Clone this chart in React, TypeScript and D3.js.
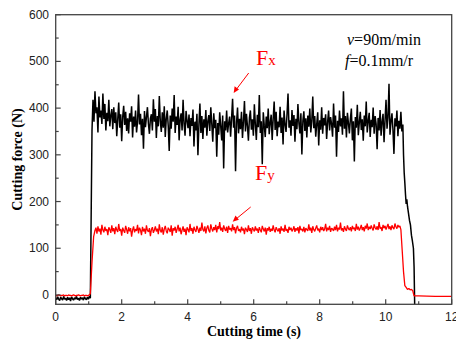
import React from "react";
import * as d3 from "d3";

const W = 456;
const H = 342;

// sample spacing of the force signal (s)
const dt = 0.03;

// Fx before cutting starts (t = 0 .. 1.05)
const fxPre = [-6, -10, -4, -9, -12, -5, -8, -11, -3, -9, -7, -12, -5, -10, -6, -13, -4, -8, -11, -6, -9, -3, -10, -7, -12, -5, -9, -6, -11, -4, -8, -10, -5, -9, -3, -7];

// Fx during cutting (t = 1.10 .. 10.52)
const fxMainStart = 1.1;
const fxMain = [
  352, 418, 371, 436, 389, 402, 348, 425, 380, 395, 366, 431, 377, 409, 352, 390, 372, 418, 361, 384,
  398, 355, 402, 368, 391, 340, 376, 412, 358, 387, 329, 381, 405, 364, 392, 351, 378, 346, 389, 371,
  404, 337, 382, 360, 395, 348, 371, 429, 365, 388, 342, 377, 313, 394, 359, 381, 402, 366, 345, 378,
  387, 352, 419, 371, 398, 336, 383, 361, 426, 372, 349, 391, 358, 404, 338, 377, 395, 362, 308, 384,
  356, 399, 371, 428, 347, 382, 364, 403, 331, 376, 389, 352, 418, 366, 341, 394, 373, 357, 386, 340,
  379, 362, 397, 318, 371, 352, 388, 299, 365, 410, 347, 383, 334, 376, 358, 396, 341, 372, 385, 351,
  402, 366, 328, 389, 357, 375, 296, 368, 343, 391, 362, 331, 384, 271, 372, 352, 395, 348, 367, 382,
  339, 378, 420, 358, 384, 265, 369, 401, 346, 377, 355, 392, 336, 371, 415, 350, 388, 362, 330, 379,
  395, 354, 376, 341, 408, 365, 332, 386, 359, 428, 347, 372, 280, 391, 363, 338, 382, 357, 399, 344,
  369, 386, 332, 377, 414, 353, 392, 340, 371, 359, 403, 347, 380, 322, 395, 365, 349, 387, 431, 358,
  374, 341, 396, 362, 385, 328, 377, 355, 409, 368, 346, 389, 301, 372, 393, 351, 378, 337, 384, 360,
  399, 348, 372, 425, 357, 383, 339, 366, 391, 320, 374, 354, 402, 345, 379, 363, 387, 334, 370, 395,
  352, 381, 366, 339, 410, 358, 384, 296, 373, 349, 395, 361, 378, 343, 436, 356, 383, 337, 390, 368,
  346, 377, 399, 331, 372, 286, 381, 358, 407, 342, 369, 392, 353, 376, 330, 384, 361, 414, 348, 372,
  390, 338, 375, 359, 401, 345, 383, 366, 312, 379, 352, 396, 341, 371, 388, 327, 374, 418, 356, 380,
  452, 343, 371, 389, 354, 302, 378, 361, 395, 340, 373, 356, 392, 350, 365,
];

// Fx when the tool leaves the work
const fxTailT = [10.54, 10.56, 10.58, 10.6, 10.62, 10.64, 10.66, 10.69, 10.72, 10.75, 10.78, 10.81, 10.84, 10.86, 10.88];
const fxTail = [300, 262, 240, 215, 195, 205, 190, 175, 160, 150, 128, 115, 100, 60, -30];

// Fy before cutting (t = 0 .. 1.02)
const fyPre = [-1, -2, -1, 0, -1, -2, -1, -1, 0, -2, -1, -1, -2, 0, -1, -1, -2, -1, 0, -1, -2, -1, -1, 0, -1, -2, -1, -1, 0, -2, -1, -1, -2, -1, 0];
const fyRiseT = [1.05, 1.1, 1.15];
const fyRise = [3, 70, 125];

// Fy during cutting (t = 1.19 .. 10.43)
const fyMainStart = 1.19;
const fyMain = [
  138, 144, 131, 147, 136, 142, 129, 150, 139, 134, 146, 137, 141, 128, 145, 140, 133, 149, 136, 143,
  130, 146, 139, 135, 152, 137, 141, 127, 144, 138, 133, 148, 140, 131, 145, 136, 143, 125, 139, 147,
  134, 141, 137, 150, 132, 144, 139, 128, 146, 136, 142, 131, 149, 138, 135, 143, 126, 140, 145, 133,
  139, 147, 136, 142, 130, 151, 138, 134, 145, 129, 141, 148, 137, 132, 144, 140, 135, 149, 127, 143,
  138, 146, 133, 141, 150, 136, 144, 130, 139, 147, 135, 142, 128, 145, 140, 134, 152, 137, 143, 131,
  146, 139, 135, 148, 141, 133, 144, 137, 155, 140, 136, 147, 132, 143, 149, 138, 134, 151, 142, 136,
  145, 139, 150, 134, 147, 141, 156, 138, 144, 135, 149, 142, 137, 146, 133, 148, 140, 143, 136, 151,
  139, 145, 132, 143, 148, 137, 141, 134, 146, 138, 142, 130, 144, 140, 135, 149, 137, 143, 131, 145,
  140, 136, 147, 138, 142, 133, 145, 139, 134, 148, 141, 136, 144, 129, 143, 138, 146, 135, 142, 137,
  149, 139, 134, 145, 140, 136, 143, 131, 147, 138, 142, 135, 150, 137, 141, 133, 146, 139, 144, 136,
  140, 147, 135, 143, 138, 145, 132, 148, 139, 141, 136, 146, 134, 143, 140, 137, 151, 138, 144, 133,
  147, 140, 136, 143, 149, 138, 142, 134, 146, 139, 145, 137, 141, 152, 136, 144, 139, 148, 135, 143,
  141, 137, 146, 139, 150, 136, 144, 140, 155, 138, 143, 135, 147, 141, 137, 149, 142, 139, 145, 136,
  148, 141, 144, 137, 152, 140, 146, 138, 143, 150, 139, 145, 136, 148, 142, 153, 139, 146, 141, 149,
  143, 138, 151, 144, 140, 147, 139, 156, 142, 145, 137, 150, 143, 148, 140, 146, 152, 141, 147, 139,
  149, 144, 141, 153, 146, 142, 150, 145, 148,
];
const fyTailT = [10.46, 10.5, 10.54, 10.58, 10.62, 10.66, 10.7, 10.74, 10.78, 10.82, 10.86, 11.0, 11.5, 12.0];
const fyTail = [140, 95, 50, 20, 16, 12, 14, 11, 12, 9, -2, -2, -3, -3];

const xTicks = [0, 2, 4, 6, 8, 10, 12];
const xMinor = [1, 3, 5, 7, 9, 11];
const yTicks = [0, 100, 200, 300, 400, 500, 600];
const yMinor = [50, 150, 250, 350, 450, 550];

type Pt = [number, number];

function series(start: number, vals: number[]): Pt[] {
  return vals.map((v, i) => [start + i * dt, v] as Pt);
}
function pairs(ts: number[], vals: number[]): Pt[] {
  return ts.map((t, i) => [t, vals[i]] as Pt);
}

export default function App() {
  const x = d3.scaleLinear().domain([0, 12]).range([55.7, 451.7]);
  const y = d3.scaleLinear().domain([-20, 600]).range([304.3, 14.7]);

  const fx = [...series(0, fxPre), ...series(fxMainStart, fxMain), ...pairs(fxTailT, fxTail)];
  const fy = [...series(0, fyPre), ...pairs(fyRiseT, fyRise), ...series(fyMainStart, fyMain), ...pairs(fyTailT, fyTail)];

  const line = d3
    .line<Pt>()
    .x((d) => x(d[0]))
    .y((d) => y(d[1]));

  const [x0, x1] = x.range();
  const [yb, yt] = y.range();
  const axisColor = "#444";
  const tickFont = "'Liberation Sans', Arial, sans-serif";
  const serif = "'Liberation Serif', 'Times New Roman', serif";

  return (
    <svg width={W} height={H} style={{ position: "absolute", left: 0, top: 0, background: "#fff" }}>
      <defs>
        <clipPath id="plot">
          <rect x={x0} y={yt} width={x1 - x0} height={yb - yt} />
        </clipPath>
      </defs>

      <g clipPath="url(#plot)">
        <path d={line(fx) || ""} fill="none" stroke="#000" strokeWidth={1.5} strokeLinejoin="bevel" />
        <path d={line(fy) || ""} fill="none" stroke="#ff0000" strokeWidth={1.3} strokeLinejoin="bevel" />
      </g>

      {/* frame */}
      <rect x={x0} y={yt} width={x1 - x0} height={yb - yt} fill="none" stroke={axisColor} strokeWidth={1.3} />

      {/* x ticks */}
      {xTicks.map((t) => (
        <g key={"xt" + t}>
          <line x1={x(t)} x2={x(t)} y1={yb} y2={yb - 5} stroke={axisColor} strokeWidth={1.2} />
          <text x={x(t)} y={321} textAnchor="middle" fontFamily={tickFont} fontSize={12} fill="#222">
            {t}
          </text>
        </g>
      ))}
      {xMinor.map((t) => (
        <line key={"xm" + t} x1={x(t)} x2={x(t)} y1={yb} y2={yb - 3} stroke={axisColor} strokeWidth={1.2} />
      ))}

      {/* y ticks */}
      {yTicks.map((v) => (
        <g key={"yt" + v}>
          <line x1={x0} x2={x0 + 5} y1={y(v)} y2={y(v)} stroke={axisColor} strokeWidth={1.2} />
          <text x={49} y={y(v) + 4} textAnchor="end" fontFamily={tickFont} fontSize={12} fill="#222">
            {v}
          </text>
        </g>
      ))}
      {yMinor.map((v) => (
        <line key={"ym" + v} x1={x0} x2={x0 + 3} y1={y(v)} y2={y(v)} stroke={axisColor} strokeWidth={1.2} />
      ))}

      {/* axis titles */}
      <text x={254} y={336} textAnchor="middle" fontFamily={serif} fontWeight="bold" fontSize={14} fill="#000">
        Cutting time (s)
      </text>
      <text
        transform={`translate(22,${(yt + yb) / 2}) rotate(-90)`}
        textAnchor="middle"
        fontFamily={serif}
        fontWeight="bold"
        fontSize={14}
        fill="#000"
      >
        Cutting force (N)
      </text>

      {/* cutting conditions */}
      <text x={347} y={45} fontFamily={serif} fontSize={16} fill="#000">
        <tspan fontStyle="italic">v</tspan>=90m/min
      </text>
      <text x={345} y={66} fontFamily={serif} fontSize={16} fill="#000">
        <tspan fontStyle="italic">f</tspan>=0.1mm/r
      </text>

      {/* force labels */}
      <text x={256} y={65} fontFamily={serif} fontSize={22} fill="#ff0000">
        F<tspan fontSize={15}>x</tspan>
      </text>
      <line x1={248.7} y1={73} x2={235.5} y2={90.5} stroke="#ff0000" strokeWidth={1} />
      <path d="M233.7,93 L234.6,86.3 L239,89.6 Z" fill="#ff0000" />

      <text x={255} y={180} fontFamily={serif} fontSize={22} fill="#ff0000">
        F<tspan fontSize={15}>y</tspan>
      </text>
      <line x1={250.7} y1={207} x2={235.2} y2={219.7} stroke="#ff0000" strokeWidth={1} />
      <path d="M232.7,221.7 L235.5,215.6 L238.9,219.8 Z" fill="#ff0000" />
    </svg>
  );
}
